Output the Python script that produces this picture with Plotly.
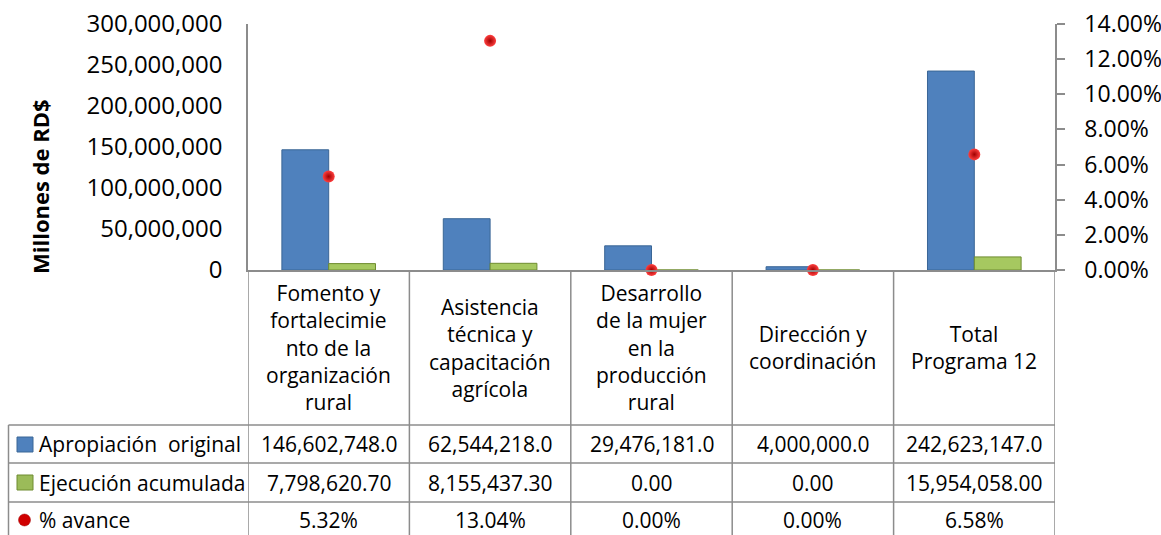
import plotly.graph_objects as go

# ---------------- data ----------------
categories = [
    "Fomento y fortalecimiento de la organización rural",
    "Asistencia técnica y capacitación agrícola",
    "Desarrollo de la mujer en la producción rural",
    "Dirección y coordinación",
    "Total Programa 12",
]
category_label_lines = [
    ["Fomento y", "fortalecimie", "nto de la", "organización", "rural"],
    ["Asistencia", "técnica y", "capacitación", "agrícola"],
    ["Desarrollo", "de la mujer", "en la", "producción", "rural"],
    ["Dirección y", "coordinación"],
    ["Total", "Programa 12"],
]
apropiacion_original = [146602748.0, 62544218.0, 29476181.0, 4000000.0, 242623147.0]
ejecucion_acumulada = [7798620.70, 8155437.30, 0.00, 0.00, 15954058.00]
pct_avance = [0.0532, 0.1304, 0.0, 0.0, 0.0658]

series_names = ["Apropiación  original", "Ejecución acumulada", "% avance"]
left_tick_values = [0, 50e6, 100e6, 150e6, 200e6, 250e6, 300e6]
right_tick_values = [0, 0.02, 0.04, 0.06, 0.08, 0.10, 0.12, 0.14]

# ---------------- layout helpers ----------------
W, H = 1161, 535
PL, PR, PT, PB = 248, 1055, 24, 270  # plot-area pixel box
FONT = "Open Sans"
GRAY = "#8C8C8C"


def px2x(px):
    return (px - PL) / (PR - PL)


def py2y(py):
    return (PB - py) / (PB - PT)


xs = list(range(len(categories)))

fig = go.Figure()
fig.add_trace(go.Bar(
    x=xs, y=apropiacion_original, name=series_names[0],
    marker=dict(color="#4F81BD", line=dict(color="#3A6696", width=1)),
))
fig.add_trace(go.Bar(
    x=xs, y=ejecucion_acumulada, name=series_names[1],
    marker=dict(color="#A6C860", line=dict(color="#6F8C30", width=1)),
))
fig.add_trace(go.Scatter(
    x=xs, y=pct_avance, name=series_names[2], yaxis="y2", mode="markers",
    cliponaxis=False,
    marker=dict(size=12, color="#FF4040",
                gradient=dict(type="radial", color="#A00000"),
                line=dict(width=0)),
))

shapes = []
annotations = []

# vertical column lines (from axis down through table)
for i in range(len(categories) + 1):
    xv = i - 0.5
    shapes.append(dict(type="line", xref="x", yref="paper", x0=xv, x1=xv,
                       y0=py2y(270), y1=py2y(540), line=dict(color=GRAY, width=1.5)))
# left table border
shapes.append(dict(type="line", xref="paper", yref="paper", x0=px2x(8.5), x1=px2x(8.5),
                   y0=py2y(425), y1=py2y(540), line=dict(color=GRAY, width=1.5)))
# horizontal table lines
for yy in [425, 463, 502]:
    shapes.append(dict(type="line", xref="paper", yref="paper", x0=px2x(8.5), x1=px2x(1055),
                       y0=py2y(yy), y1=py2y(yy), line=dict(color=GRAY, width=1.5)))

# category header labels
for i, lines in enumerate(category_label_lines):
    annotations.append(dict(x=i, xref="x", y=py2y(347.5), yref="paper",
                            text="<br>".join(lines), showarrow=False,
                            xanchor="center", yanchor="middle", align="center",
                            font=dict(family=FONT, size=21, color="#000")))

# table rows
row_centers = [444, 482.5, 520]
row_texts = [
    [f"{v:,.1f}" for v in apropiacion_original],
    [f"{v:,.2f}" for v in ejecucion_acumulada],
    [f"{v * 100:.2f}%" for v in pct_avance],
]
for r, (yc, texts) in enumerate(zip(row_centers, row_texts)):
    annotations.append(dict(x=px2x(37), xref="paper", y=py2y(yc), yref="paper",
                            text=series_names[r], showarrow=False,
                            xanchor="left", yanchor="middle",
                            font=dict(family=FONT, size=21, color="#000")))
    for i, t in enumerate(texts):
        annotations.append(dict(x=i, xref="x", y=py2y(yc), yref="paper",
                                text=t, showarrow=False,
                                xanchor="center", yanchor="middle",
                                font=dict(family=FONT, size=21, color="#000")))

# legend keys in table
shapes.append(dict(type="rect", xref="paper", yref="paper",
                   x0=px2x(17), x1=px2x(33), y0=py2y(452), y1=py2y(437),
                   fillcolor="#4F81BD", line=dict(color="#3A6696", width=1)))
shapes.append(dict(type="rect", xref="paper", yref="paper",
                   x0=px2x(17), x1=px2x(33), y0=py2y(490), y1=py2y(475),
                   fillcolor="#9BBB59", line=dict(color="#6F8C30", width=1)))
shapes.append(dict(type="circle", xref="paper", yref="paper",
                   x0=px2x(18.5), x1=px2x(30.5), y0=py2y(526), y1=py2y(514),
                   fillcolor="#D00000", line=dict(color="#A00000", width=0.5)))

# y-axis title
annotations.append(dict(x=px2x(40), xref="paper", y=py2y(187), yref="paper",
                        text="<b>Millones de RD$</b>", showarrow=False, textangle=-90,
                        xanchor="center", yanchor="middle",
                        font=dict(family=FONT, size=22, color="#000")))

fig.update_layout(
    width=W, height=H,
    margin=dict(l=PL, r=W - PR, t=PT, b=H - PB, autoexpand=False),
    paper_bgcolor="white", plot_bgcolor="white",
    showlegend=False,
    barmode="group", bargap=0.42, bargroupgap=0,
    font=dict(family=FONT, color="#000"),
    xaxis=dict(range=[-0.5, 4.5], showticklabels=False, ticks="", showgrid=False,
               zeroline=False, showline=True, linecolor=GRAY, linewidth=1.5),
    yaxis=dict(range=[0, 300e6], tickvals=left_tick_values, tickformat=",d",
               showgrid=False, zeroline=False, showline=True, linecolor=GRAY,
               linewidth=1.5, ticks="", ticklabelstandoff=19,
               ticklabeloverflow="allow",
               tickfont=dict(family=FONT, size=24, color="#000")),
    yaxis2=dict(range=[0, 0.14], tickvals=right_tick_values, tickformat=".2%",
                overlaying="y", side="right", showgrid=False, zeroline=False,
                showline=True, linecolor=GRAY, linewidth=1.5,
                ticks="outside", ticklen=8, tickcolor=GRAY, tickwidth=1.5,
                ticklabelstandoff=15, ticklabeloverflow="allow",
                tickfont=dict(family=FONT, size=23, color="#000")),
    shapes=shapes,
    annotations=annotations,
)

# remove the default page margin so the 1161x535 figure fills the window exactly
fig.write_html("out.html", config={"displayModeBar": False},
               post_script="document.body.style.margin='0';document.body.style.overflow='hidden';")
